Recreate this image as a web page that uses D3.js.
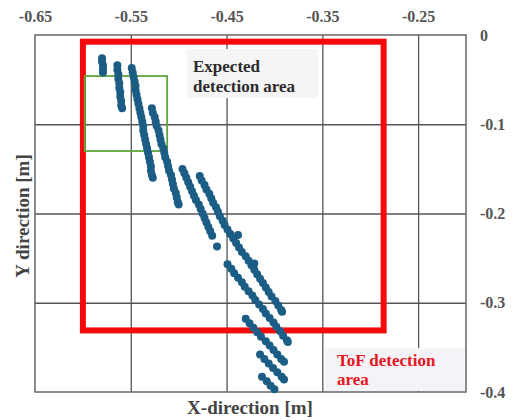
<!DOCTYPE html>
<html>
<head>
<meta charset="utf-8">
<script src="https://cdn.jsdelivr.net/npm/d3@7"></script>
<style>
  body { margin: 0; background: #fff; }
  svg text { font-family: "Liberation Serif", "Times New Roman", serif; font-weight: bold; }
</style>
</head>
<body>
<svg id="chart"></svg>
<script>
// tick labels
const xTicks = [-0.65, -0.55, -0.45, -0.35, -0.25];
const yTicks = [0, -0.1, -0.2, -0.3, -0.4];

// detection zones [x0, y0, x1, y1] in metres
const tofZone = [-0.600, -0.0075, -0.286, -0.331];
const expectedZone = [-0.598, -0.046, -0.512, -0.130];

// measured positions, one array per track [x, y]
const track1 = [[-0.580,-0.026],[-0.580,-0.030],[-0.579,-0.034],[-0.579,-0.038],[-0.579,-0.042]];
const track2 = [[-0.564,-0.034],[-0.564,-0.039],[-0.563,-0.044],[-0.563,-0.049],[-0.562,-0.054],[-0.562,-0.059],
  [-0.561,-0.064],[-0.561,-0.069],[-0.560,-0.074],[-0.560,-0.079],[-0.559,-0.082]];
const track3 = [[-0.549,-0.037],[-0.548,-0.042],[-0.547,-0.047],[-0.546,-0.052],[-0.545,-0.057],[-0.545,-0.062],
  [-0.544,-0.067],[-0.543,-0.072],[-0.542,-0.077],[-0.541,-0.082],[-0.540,-0.087],[-0.539,-0.092],[-0.538,-0.097],
  [-0.537,-0.102],[-0.537,-0.107],[-0.536,-0.112],[-0.535,-0.117],[-0.534,-0.122],[-0.533,-0.127],[-0.532,-0.132],
  [-0.531,-0.137],[-0.530,-0.142],[-0.529,-0.147],[-0.529,-0.152],[-0.528,-0.157],[-0.527,-0.160]];
const track4 = [[-0.528,-0.082],[-0.527,-0.087],[-0.525,-0.092],[-0.524,-0.097],[-0.523,-0.102],[-0.521,-0.107],
  [-0.520,-0.112],[-0.519,-0.117],[-0.518,-0.122],[-0.516,-0.127],[-0.515,-0.132],[-0.514,-0.137],[-0.512,-0.142],
  [-0.511,-0.147],[-0.510,-0.152],[-0.508,-0.157],[-0.507,-0.162],[-0.506,-0.167],[-0.505,-0.172],[-0.503,-0.177],
  [-0.502,-0.182],[-0.501,-0.187],[-0.500,-0.190]];
const track5 = [[-0.496,-0.150],[-0.494,-0.155],[-0.492,-0.160],[-0.490,-0.165],[-0.488,-0.170],[-0.486,-0.175],
  [-0.484,-0.180],[-0.482,-0.185],[-0.479,-0.190],[-0.477,-0.195],[-0.475,-0.200],[-0.473,-0.205],[-0.471,-0.210],
  [-0.469,-0.215],[-0.467,-0.220],[-0.465,-0.225],[-0.460,-0.237]];
const track6 = [[-0.478,-0.158],[-0.476,-0.163],[-0.473,-0.168],[-0.471,-0.173],[-0.468,-0.178],[-0.466,-0.183],
  [-0.464,-0.188],[-0.461,-0.193],[-0.459,-0.198],[-0.457,-0.203],[-0.454,-0.208],[-0.452,-0.213],[-0.449,-0.218],
  [-0.446,-0.223],[-0.443,-0.228],[-0.440,-0.233],[-0.438,-0.224],[-0.437,-0.238],[-0.434,-0.243],[-0.430,-0.248],
  [-0.427,-0.253],[-0.424,-0.258],[-0.421,-0.256],[-0.421,-0.263],[-0.418,-0.268],[-0.415,-0.273],[-0.412,-0.278],
  [-0.409,-0.283],[-0.406,-0.288],[-0.403,-0.293],[-0.399,-0.298],[-0.396,-0.303],[-0.393,-0.308],[-0.392,-0.310]];
const track7 = [[-0.449,-0.257],[-0.445,-0.262],[-0.442,-0.267],[-0.438,-0.272],[-0.434,-0.277],[-0.431,-0.282],
  [-0.427,-0.287],[-0.423,-0.292],[-0.420,-0.297],[-0.416,-0.302],[-0.412,-0.307],[-0.409,-0.312],[-0.405,-0.317],
  [-0.401,-0.322],[-0.398,-0.327],[-0.394,-0.332],[-0.391,-0.337],[-0.387,-0.342],[-0.386,-0.344]];
const track8 = [[-0.430,-0.318],[-0.426,-0.323],[-0.422,-0.328],[-0.418,-0.333],[-0.414,-0.338],[-0.409,-0.343],
  [-0.405,-0.348],[-0.401,-0.353],[-0.397,-0.358],[-0.393,-0.363],[-0.390,-0.366]];
const track9 = [[-0.415,-0.358],[-0.4105,-0.363],[-0.406,-0.368],[-0.4015,-0.373],[-0.397,-0.378],[-0.3925,-0.383],[-0.390,-0.386]];
const track10 = [[-0.413,-0.383],[-0.408,-0.388],[-0.404,-0.393],[-0.400,-0.397]];

const points = [track1, track2, track3, track4, track5, track6, track7, track8, track9, track10].flat();

const width = 513, height = 420;
const plotLeft = 35, plotRight = 466, plotTop = 35, plotBottom = 392;

const svg = d3.select('#chart')
  .attr('width', width)
  .attr('height', height);

const x = d3.scaleLinear().domain([-0.65, -0.2]).range([plotLeft, plotRight]);
const y = d3.scaleLinear().domain([0, -0.4]).range([plotTop, plotBottom]);

// grid
svg.append('g')
  .attr('transform', `translate(0,${plotBottom})`)
  .call(d3.axisBottom(x).tickValues(xTicks.slice(1)).tickSize(-(plotBottom - plotTop)).tickFormat(''))
  .call(g => g.select('.domain').remove())
  .selectAll('line').attr('stroke', '#555').attr('stroke-width', 1.3);

svg.append('g')
  .attr('transform', `translate(${plotLeft},0)`)
  .call(d3.axisLeft(y).tickValues(yTicks.slice(1, 4)).tickSize(-(plotRight - plotLeft)).tickFormat(''))
  .call(g => g.select('.domain').remove())
  .selectAll('line').attr('stroke', '#555').attr('stroke-width', 1.3);

svg.append('rect')
  .attr('x', plotLeft).attr('y', plotTop)
  .attr('width', plotRight - plotLeft).attr('height', plotBottom - plotTop)
  .attr('fill', 'none').attr('stroke', '#666').attr('stroke-width', 1.5);

// tick labels
svg.append('g')
  .attr('transform', `translate(0,${plotTop})`)
  .call(d3.axisTop(x).tickValues(xTicks).tickSize(0).tickPadding(13).tickFormat(d => d.toFixed(2)))
  .call(g => g.select('.domain').remove())
  .selectAll('text')
  .attr('font-size', 16).attr('fill', '#555').attr('font-family', null);

svg.append('g')
  .attr('transform', `translate(${plotRight},0)`)
  .call(d3.axisRight(y).tickValues(yTicks).tickSize(0).tickPadding(14).tickFormat(d => d === 0 ? '0' : d.toFixed(1)))
  .call(g => g.select('.domain').remove())
  .selectAll('text')
  .attr('font-size', 16).attr('fill', '#555').attr('font-family', null);

// zones
svg.append('rect')
  .attr('x', x(tofZone[0])).attr('y', y(tofZone[1]))
  .attr('width', x(tofZone[2]) - x(tofZone[0])).attr('height', y(tofZone[3]) - y(tofZone[1]))
  .attr('fill', 'none').attr('stroke', '#f40a0a').attr('stroke-width', 6);

svg.append('rect')
  .attr('x', x(expectedZone[0])).attr('y', y(expectedZone[1]))
  .attr('width', x(expectedZone[2]) - x(expectedZone[0])).attr('height', y(expectedZone[3]) - y(expectedZone[1]))
  .attr('fill', 'none').attr('stroke', '#5ea63e').attr('stroke-width', 1.8);

// measured dots
svg.append('g')
  .selectAll('circle')
  .data(points)
  .enter()
  .append('circle')
  .attr('cx', d => x(d[0]))
  .attr('cy', d => y(d[1]))
  .attr('r', 4)
  .attr('fill', '#1c5d85');

// annotations
svg.append('rect').attr('x', 187).attr('y', 49).attr('width', 131).attr('height', 49).attr('fill', '#f5f5f6');
svg.append('text').attr('x', 193).attr('y', 72).attr('font-size', 17).attr('fill', '#2b2b2b').text('Expected');
svg.append('text').attr('x', 193).attr('y', 92).attr('font-size', 17).attr('fill', '#2b2b2b').text('detection area');

svg.append('rect').attr('x', 325).attr('y', 348).attr('width', 140).attr('height', 43).attr('fill', '#f4f4f8');
svg.append('text').attr('x', 337).attr('y', 366).attr('font-size', 17).attr('fill', '#e8141e').text('ToF detection');
svg.append('text').attr('x', 337).attr('y', 385).attr('font-size', 17).attr('fill', '#e8141e').text('area');

// axis titles
svg.append('text')
  .attr('x', 250).attr('y', 414)
  .attr('text-anchor', 'middle')
  .attr('font-size', 19).attr('fill', '#444')
  .text('X-direction [m]');

svg.append('text')
  .attr('transform', 'translate(29,216) rotate(-90)')
  .attr('text-anchor', 'middle')
  .attr('font-size', 19).attr('fill', '#444')
  .text('Y direction [m]');
</script>
</body>
</html>
